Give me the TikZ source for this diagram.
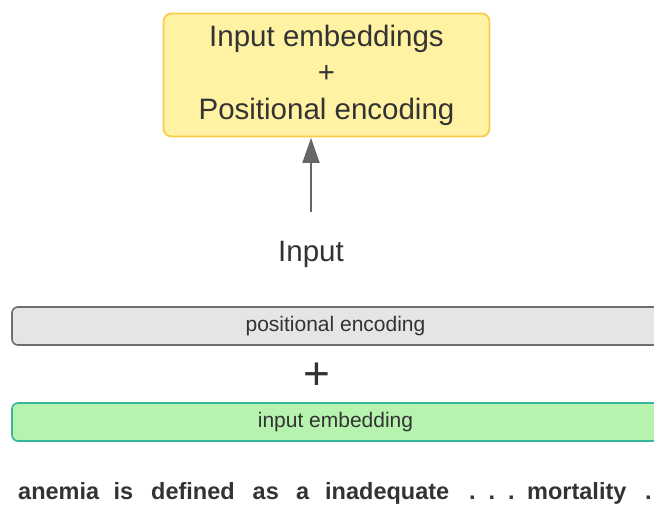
\documentclass[tikz,border=0pt]{standalone}
\usepackage{fontspec}
\setmainfont{Liberation Sans}
\usetikzlibrary{arrows.meta}
\definecolor{txt}{HTML}{333333}
\definecolor{ylwfill}{HTML}{FFF2A3}
\definecolor{ylwdraw}{HTML}{F8CD4C}
\definecolor{gryfill}{HTML}{E5E5E5}
\definecolor{grydraw}{HTML}{6E6E6E}
\definecolor{grnfill}{HTML}{B5F3AE}
\definecolor{grndraw}{HTML}{36B59A}
\definecolor{arrowc}{HTML}{666666}
\tikzset{
  bigtext/.style={font=\fontsize{29.5}{36.5}\selectfont, text=txt},
  bartext/.style={font=\fontsize{21}{25}\selectfont, text=txt},
  sumbox/.style={draw=ylwdraw, fill=ylwfill, line width=1.8pt, rounded corners=8pt,
    minimum width=326pt, minimum height=123pt, align=center, bigtext},
  barbox/.style={line width=1.6pt, rounded corners=6pt, minimum width=647pt,
    minimum height=38pt, inner sep=0pt, bartext},
  tokword/.style={anchor=base west, inner sep=0pt, text=txt,
    font=\fontsize{23.5}{28}\selectfont\bfseries},
  flow/.style={draw=arrowc, line width=1.8pt,
    -{Triangle[length=25pt,width=17pt]}, color=arrowc}
}
\begin{document}
\begin{tikzpicture}[x=1pt, y=-1pt]
  \clip (0,0) rectangle (654,507);
  \fill[white] (0,0) rectangle (654,507);

  % combined representation
  \node[sumbox] (sum) at (326.5,75) {Input embeddings\\+\\Positional encoding};

  % input label and arrow into the box
  \node[bigtext, anchor=base, inner sep=0pt] (inp) at (311,261) {Input};
  \draw[flow, shorten <=29pt, shorten >=0.5pt] (inp.north) -- (sum.south -| inp.north);

  % the two vectors that are added
  \node[barbox, draw=grydraw, fill=gryfill] (pos) at (335.5,326) {positional encoding};
  \node[font=\fontsize{46}{50}\selectfont, text=txt, anchor=base, inner sep=0pt] (plus) at (317,389.5) {+};
  \node[barbox, draw=grndraw, fill=grnfill] (emb) at (335.5,422) {input embedding};

  % token sequence
  \foreach \w/\x [count=\i] in {anemia/18, is/113.5, defined/151, as/252.5, a/296,
      inadequate/325, ./469, ./488.5, ./508, mortality/527, ./645} {
    \node[tokword] (tok\i) at (\x,499) {\w};
  }
\end{tikzpicture}
\end{document}
